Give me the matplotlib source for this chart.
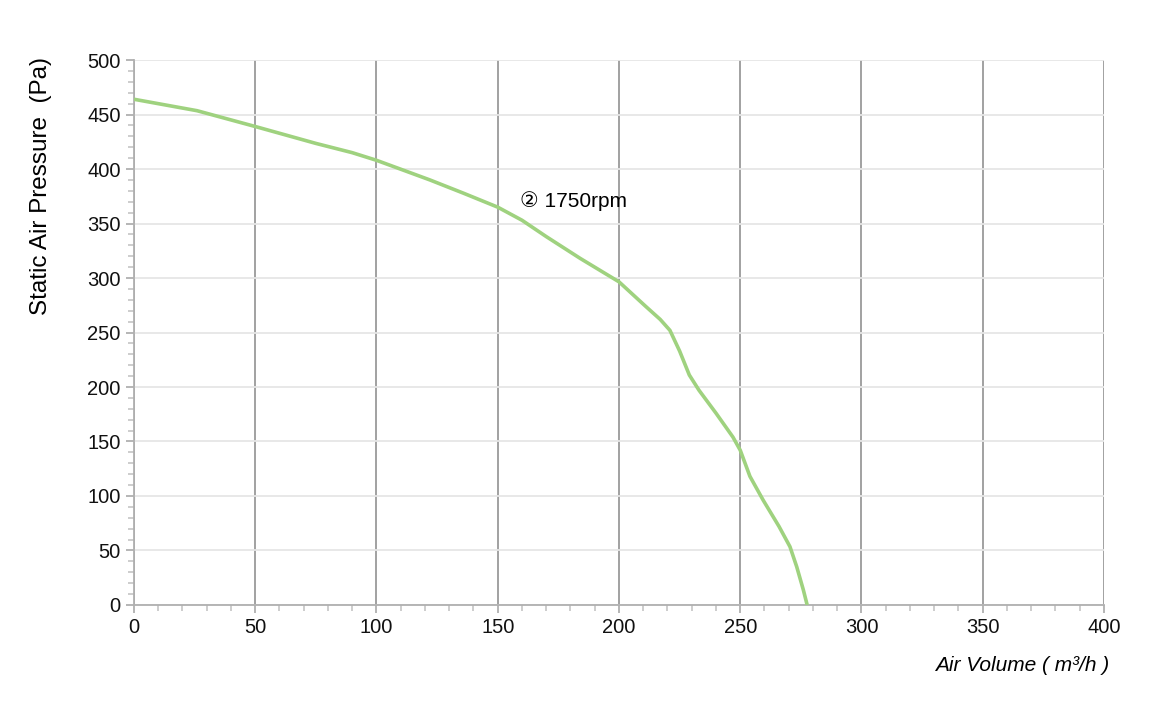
import matplotlib
matplotlib.use('Agg')
import matplotlib.pyplot as plt
import matplotlib.ticker as ticker

plt.rcParams['font.family'] = ['Liberation Sans', 'DejaVu Sans', 'Noto Sans CJK SC']

# ── data ──────────────────────────────────────────────────────
air_volume = [0, 26, 50, 75, 90, 100, 122, 136, 150, 160, 170, 184, 200,
              211, 217, 221, 225, 229, 233, 240, 247, 250, 254, 259.5,
              266, 270.5, 273.3, 276, 277.6]
pressure   = [464, 453.5, 439, 423.5, 415, 408, 390, 377.7, 365, 353, 338,
              318, 296.5, 274, 262, 252, 233, 211, 197, 176, 154, 142,
              118, 96, 72, 53.5, 35, 14, 0]

label_txt = '② 1750rpm'
label_pos = (159, 371)

fig = plt.figure(figsize=(11.53, 7.12), dpi=100)
ax = fig.add_axes([0.1162, 0.1503, 0.8413, 0.7654])

ax.plot(air_volume, pressure, color='#9fd27f', linewidth=2.6,
        solid_capstyle='butt', solid_joinstyle='round', zorder=3)
ax.text(*label_pos, label_txt, fontsize=15, va='center', ha='left', zorder=4)

ax.set_xlim(0, 400)
ax.set_ylim(0, 500)
ax.xaxis.set_major_locator(ticker.MultipleLocator(50))
ax.xaxis.set_minor_locator(ticker.MultipleLocator(10))
ax.yaxis.set_major_locator(ticker.MultipleLocator(50))
ax.yaxis.set_minor_locator(ticker.MultipleLocator(10))

ax.grid(True, axis='x', which='major', color='#9a9a9a', linewidth=1.3)
ax.grid(True, axis='y', which='major', color='#e6e6e6', linewidth=1.3)
ax.set_axisbelow(True)

for s in ('top', 'right'):
    ax.spines[s].set_visible(False)
for s in ('left', 'bottom'):
    ax.spines[s].set_color('#b0b0b0')
    ax.spines[s].set_linewidth(1.3)

ax.tick_params(which='major', direction='out', length=6, width=1.3,
               color='#b0b0b0', labelsize=14.5, labelcolor='#111111')
ax.tick_params(which='minor', direction='out', length=4, width=1.1,
               color='#c0c0c0')

ax.set_ylabel('Static Air Pressure  (Pa)', fontsize=17.5, loc='top')
ax.yaxis.set_label_coords(-0.084, 1.005)
ax.set_xlabel('Air Volume ( m³/h )', fontsize=15, style='italic',
              ha='right')
ax.xaxis.set_label_coords(1.005, -0.093)

fig.savefig('out.png', dpi=100)
